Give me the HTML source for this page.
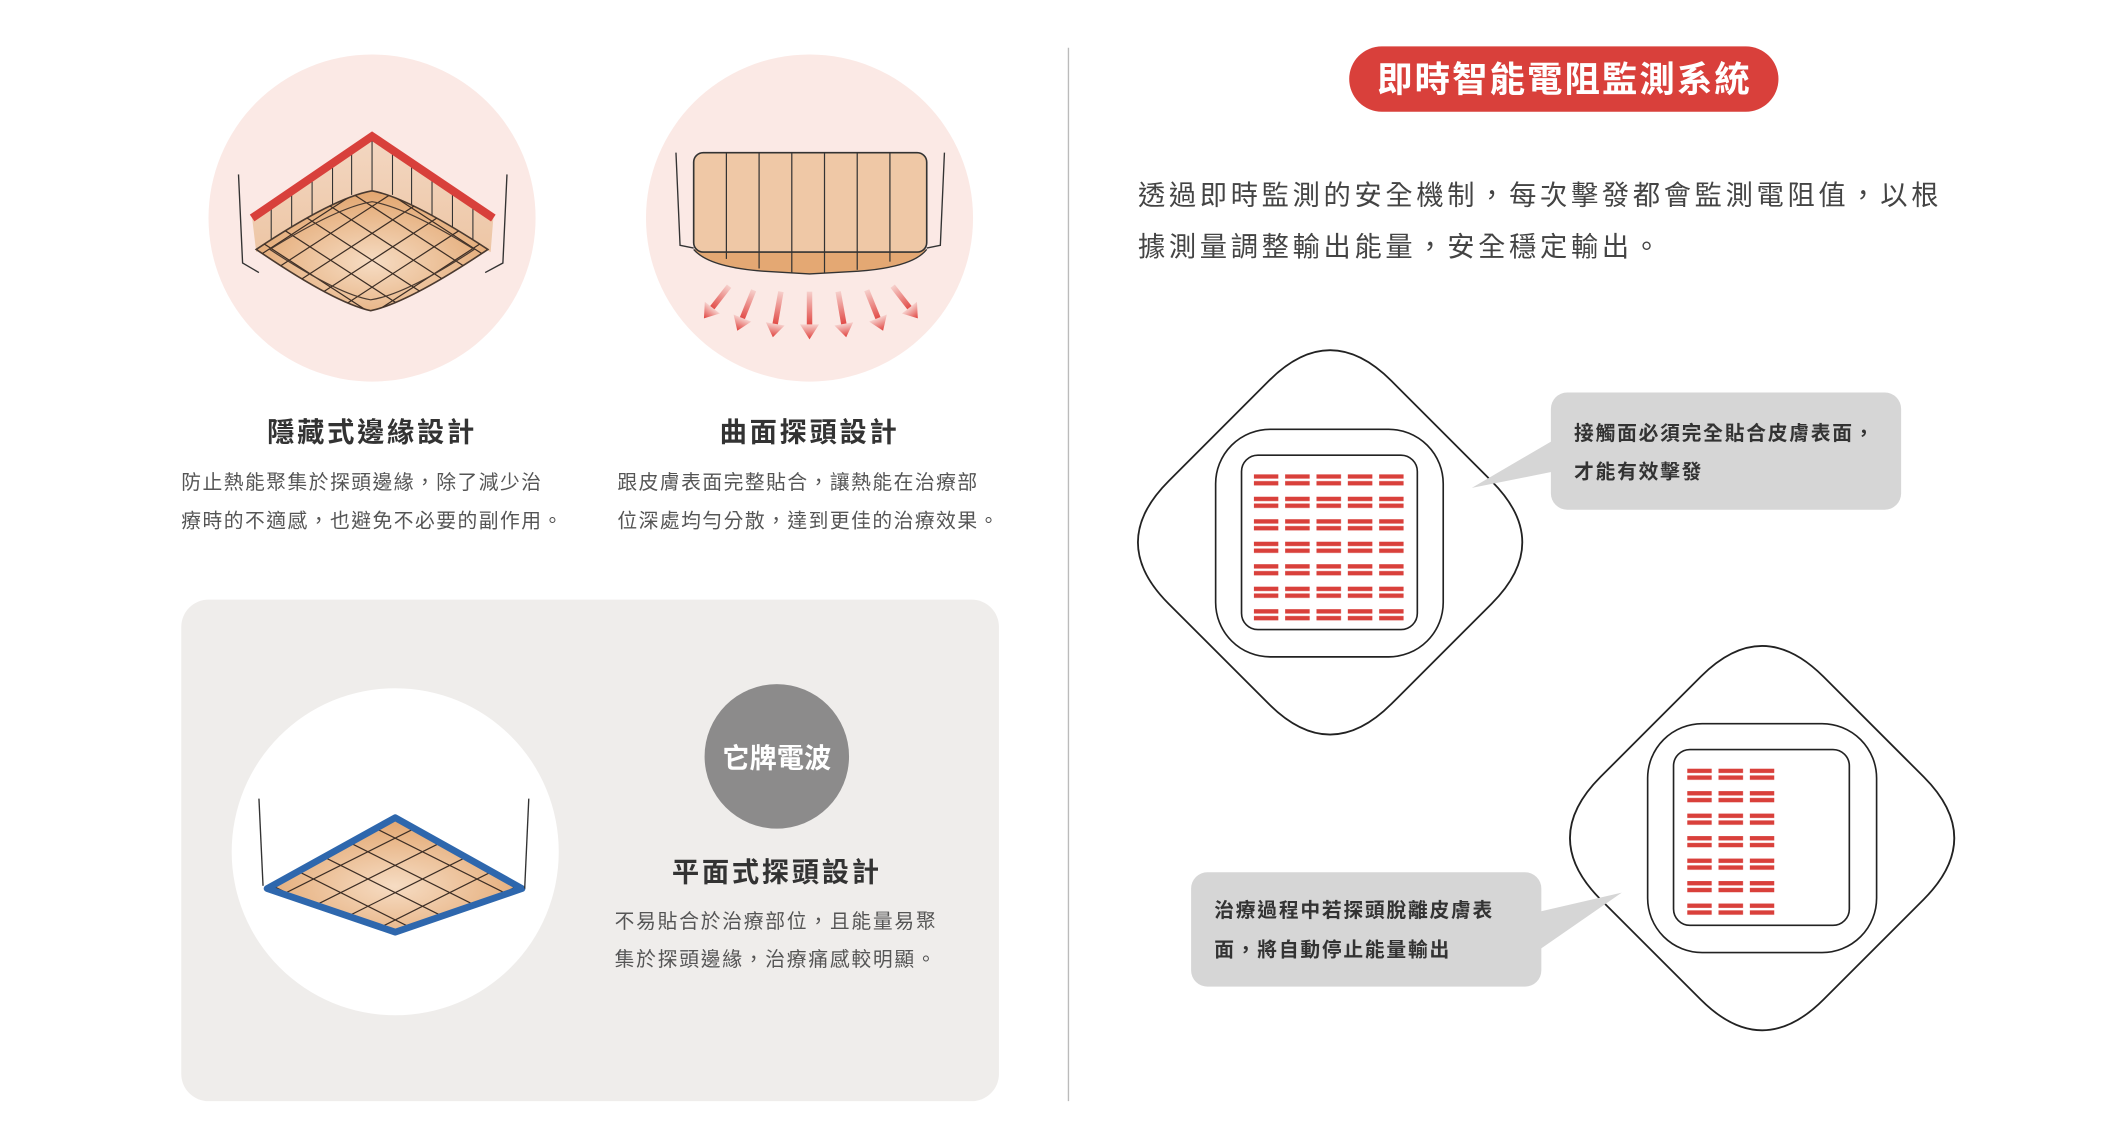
<!DOCTYPE html>
<html><head><meta charset="utf-8"><style>
html,body{margin:0;padding:0;background:#fff;}
svg{display:block;}
text{font-family:"Liberation Sans","Noto Sans CJK TC",sans-serif;}
</style></head><body>
<svg width="2126" height="1122" viewBox="0 0 1560 823.3" xmlns="http://www.w3.org/2000/svg">
<defs>
<radialGradient id="peach2" cx="0.5" cy="0.6" r="0.6"><stop offset="0" stop-color="#f6dcc3"/><stop offset="1" stop-color="#e2a56e"/></radialGradient>
<linearGradient id="wall" x1="0" y1="0" x2="0" y2="1"><stop offset="0" stop-color="#f3d7c2"/><stop offset="1" stop-color="#edc6a5"/></linearGradient>
<linearGradient id="arr" x1="0" y1="0" x2="0" y2="1"><stop offset="0" stop-color="#f6d0cc"/><stop offset="1" stop-color="#e0413d"/></linearGradient>
<pattern id="bars" patternUnits="userSpaceOnUse" x="920" y="348" width="23" height="16.5"><rect x="0" y="0" width="18" height="3.2" fill="#d9403b"/><rect x="0" y="5" width="18" height="3.2" fill="#d9403b"/></pattern>
<pattern id="bars2" patternUnits="userSpaceOnUse" x="1238" y="564" width="23" height="16.5"><rect x="0" y="0" width="18" height="3.2" fill="#d9403b"/><rect x="0" y="5" width="18" height="3.2" fill="#d9403b"/></pattern>
<clipPath id="tray1"><path d="M273,140 Q300,145 358,183 Q300,222 272,228 Q245,222 188,183 Q245,145 273,140Z"/></clipPath>
<clipPath id="tray3"><path d="M290,600 L383,652 L290,684 L196,652Z"/></clipPath>
</defs>

<circle cx="273" cy="160" r="120" fill="#fbe9e5"/>
<circle cx="594" cy="160" r="120" fill="#fbe9e5"/>

<g>
<polygon points="185,160 273,100 362,160 360,185 273,140 188,185" fill="url(#wall)"/>
<g stroke="#333" stroke-width="0.8">
<line x1="199" y1="151" x2="199" y2="178"/><line x1="214" y1="141" x2="214" y2="168"/><line x1="229" y1="131" x2="229" y2="158"/><line x1="244" y1="120" x2="244" y2="150"/><line x1="258" y1="110" x2="258" y2="143"/><line x1="273" y1="100" x2="273" y2="140"/><line x1="288" y1="110" x2="288" y2="143"/><line x1="302" y1="120" x2="302" y2="150"/><line x1="317" y1="131" x2="317" y2="158"/><line x1="332" y1="141" x2="332" y2="168"/><line x1="347" y1="151" x2="347" y2="178"/>
</g>
<path d="M273,140 Q300,145 358,183 Q300,222 272,228 Q245,222 188,183 Q245,145 273,140Z" fill="url(#peach2)" stroke="#4a3a30" stroke-width="1.2"/>
<g clip-path="url(#tray1)" stroke="#3d2e25" stroke-width="0.9" fill="none">
<path d="M180,170 L280,235 M195,160 L295,225 M210,150 L310,215 M225,140 L325,205 M240,130 L340,195 M255,122 L355,187 M165,180 L265,245"/>
<path d="M366,170 L266,235 M351,160 L251,225 M336,150 L236,215 M321,140 L221,205 M306,130 L206,195 M291,122 L191,187 M381,180 L281,245"/>
</g>
<path d="M273,148 Q298,152 348,183 Q298,216 272,220 Q248,216 198,183 Q248,152 273,148Z" fill="none" stroke="#4a3a30" stroke-width="0.9"/>
<polyline points="185,160 273,100 362,160" fill="none" stroke="#d8403b" stroke-width="6" stroke-linejoin="miter"/>
<path d="M175,128 L178,193 L190,200" fill="none" stroke="#333" stroke-width="1"/>
<path d="M372,128 L369,193 L356,200" fill="none" stroke="#333" stroke-width="1"/>
</g>

<g>
<path d="M509,183 Q520,196 560,199 L594,201 L630,199 Q670,196 680,183 Z" fill="#e4a873"/>
<rect x="509" y="112" width="171" height="73" rx="7" fill="#efc8a6" stroke="#333" stroke-width="1.2"/>
<path d="M509,183 Q520,196 560,199 L594,201 L630,199 Q670,196 680,183" fill="none" stroke="#333" stroke-width="1"/>
<g stroke="#333" stroke-width="0.9">
<line x1="533" y1="112" x2="533" y2="190"/><line x1="557" y1="112" x2="557" y2="197"/><line x1="581" y1="112" x2="581" y2="200"/><line x1="605" y1="112" x2="605" y2="200"/><line x1="629" y1="112" x2="629" y2="198"/><line x1="653" y1="112" x2="653" y2="192"/>
</g>
<path d="M496,112 L499,180 L509,182" fill="none" stroke="#333" stroke-width="1"/>
<path d="M693,112 L690,180 L680,182" fill="none" stroke="#333" stroke-width="1"/>
<g fill="url(#arr)" stroke="none">
<g transform="translate(535,210) rotate(38)"><rect x="-2" y="0" width="4" height="22"/><polygon points="-7,20 7,20 0,30"/></g>
<g transform="translate(553,213) rotate(22)"><rect x="-2" y="0" width="4" height="24"/><polygon points="-7,22 7,22 0,32"/></g>
<g transform="translate(573,214) rotate(10)"><rect x="-2" y="0" width="4" height="26"/><polygon points="-7,24 7,24 0,34"/></g>
<g transform="translate(594,214)"><rect x="-2" y="0" width="4" height="26"/><polygon points="-7,24 7,24 0,35"/></g>
<g transform="translate(615,214) rotate(-10)"><rect x="-2" y="0" width="4" height="26"/><polygon points="-7,24 7,24 0,34"/></g>
<g transform="translate(636,213) rotate(-22)"><rect x="-2" y="0" width="4" height="24"/><polygon points="-7,22 7,22 0,32"/></g>
<g transform="translate(655,210) rotate(-38)"><rect x="-2" y="0" width="4" height="22"/><polygon points="-7,20 7,20 0,30"/></g>
</g>
</g>

<text x="273" y="324" text-anchor="middle" font-size="20" font-weight="bold" fill="#333" letter-spacing="2">隱藏式邊緣設計</text>
<text x="133" y="359" font-size="14.5" fill="#555" letter-spacing="1.1">防止熱能聚集於探頭邊緣，除了減少治</text>
<text x="133" y="387" font-size="14.5" fill="#555" letter-spacing="1.1">療時的不適感，也避免不必要的副作用。</text>
<text x="594" y="324" text-anchor="middle" font-size="20" font-weight="bold" fill="#333" letter-spacing="2">曲面探頭設計</text>
<text x="453" y="359" font-size="14.5" fill="#555" letter-spacing="1.1">跟皮膚表面完整貼合，讓熱能在治療部</text>
<text x="453" y="387" font-size="14.5" fill="#555" letter-spacing="1.1">位深處均勻分散，達到更佳的治療效果。</text>

<rect x="133" y="440" width="600" height="368" rx="20" fill="#efedeb"/>
<circle cx="290" cy="625" r="120" fill="#fff"/>
<path d="M290,600 L383,652 L290,684 L196,652Z" fill="url(#peach2)"/>
<g clip-path="url(#tray3)" stroke="#3d2e25" stroke-width="0.9">
<path d="M180,640 L300,700 M200,630 L320,690 M220,620 L340,680 M240,610 L360,670 M260,600 L380,660 M280,590 L400,650 M160,650 L280,710"/>
<path d="M400,640 L280,700 M380,630 L260,690 M360,620 L240,680 M340,610 L220,670 M320,600 L200,660 M300,590 L180,650 M420,650 L300,710"/>
</g>
<path d="M290,600 L383,652 L290,684 L196,652Z" fill="none" stroke="#2e67ad" stroke-width="5" stroke-linejoin="round"/>
<line x1="190" y1="586" x2="193" y2="650" stroke="#333" stroke-width="1"/>
<line x1="388" y1="586" x2="385" y2="652" stroke="#333" stroke-width="1"/>

<circle cx="570" cy="555" r="53" fill="#8c8b8b"/>
<text x="570" y="563" text-anchor="middle" font-size="20" fill="#fff" font-weight="bold">它牌電波</text>
<text x="570" y="647" text-anchor="middle" font-size="20" font-weight="bold" fill="#333" letter-spacing="2">平面式探頭設計</text>
<text x="451" y="681" font-size="14.5" fill="#555" letter-spacing="1.3">不易貼合於治療部位，且能量易聚</text>
<text x="451" y="709" font-size="14.5" fill="#555" letter-spacing="1.3">集於探頭邊緣，治療痛感較明顯。</text>

<line x1="784" y1="35" x2="784" y2="808" stroke="#bbb" stroke-width="1"/>

<rect x="990" y="34" width="315" height="48" rx="24" fill="#d9403b"/>
<text x="1148" y="67" text-anchor="middle" font-size="26" font-weight="bold" fill="#fff" letter-spacing="1.5">即時智能電阻監測系統</text>
<text x="835" y="150" font-size="20" fill="#444" letter-spacing="2.7">透過即時監測的安全機制，每次擊發都會監測電阻值，以根</text>
<text x="835" y="188" font-size="20" fill="#444" letter-spacing="2.7">據測量調整輸出能量，安全穩定輸出。</text>

<path d="M931,279.5 Q976,234.5 1021,279.5 L1094.5,353 Q1139.5,398 1094.5,443 L1021,516.5 Q976,561.5 931,516.5 L857.5,443 Q812.5,398 857.5,353 Z" fill="#fff" stroke="#222" stroke-width="1.3"/>
<rect x="892" y="315" width="167" height="167" rx="40" fill="none" stroke="#222" stroke-width="1.2"/>
<rect x="911" y="334" width="129" height="128" rx="12" fill="none" stroke="#222" stroke-width="1.2"/>
<rect x="920" y="348" width="110" height="108" fill="url(#bars)"/>

<path d="M1248,496.5 Q1293,451.5 1338,496.5 L1411.5,570 Q1456.5,615 1411.5,660 L1338,733.5 Q1293,778.5 1248,733.5 L1174.5,660 Q1129.5,615 1174.5,570 Z" fill="#fff" stroke="#222" stroke-width="1.3"/>
<rect x="1209" y="531" width="168" height="168" rx="40" fill="none" stroke="#222" stroke-width="1.2"/>
<rect x="1228" y="550" width="129" height="129" rx="12" fill="none" stroke="#222" stroke-width="1.2"/>
<rect x="1238" y="564" width="64" height="108" fill="url(#bars2)"/>

<path d="M1145,320 L1080,358 L1145,345 Z" fill="#d6d6d6"/>
<rect x="1138" y="288" width="257" height="86" rx="12" fill="#d6d6d6"/>
<text x="1155" y="323" font-size="14.5" fill="#333" font-weight="bold" letter-spacing="1.3">接觸面必須完全貼合皮膚表面，</text>
<text x="1155" y="351" font-size="14.5" fill="#333" font-weight="bold" letter-spacing="1.3">才能有效擊發</text>

<path d="M1125,670 L1190,655 L1125,700 Z" fill="#d6d6d6"/>
<rect x="874" y="640" width="257" height="84" rx="12" fill="#d6d6d6"/>
<text x="891" y="673" font-size="14.5" fill="#333" font-weight="bold" letter-spacing="1.3">治療過程中若探頭脫離皮膚表</text>
<text x="891" y="702" font-size="14.5" fill="#333" font-weight="bold" letter-spacing="1.3">面，將自動停止能量輸出</text>
</svg>
</body></html>
